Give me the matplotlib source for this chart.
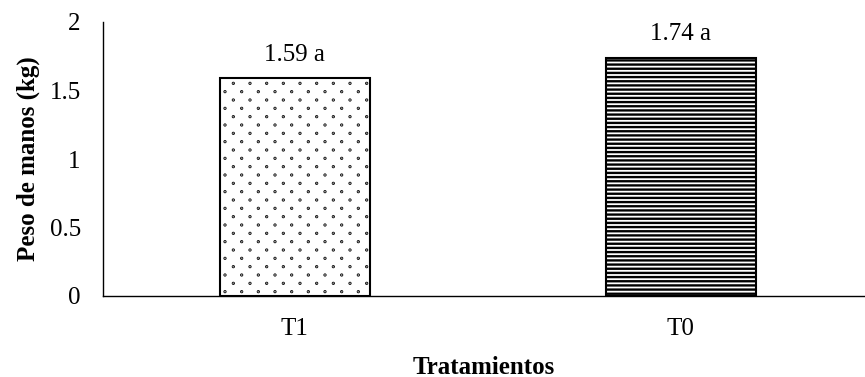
import matplotlib
matplotlib.use("Agg")
import numpy as np
import matplotlib.pyplot as plt
from matplotlib import hatch as mhatch
from matplotlib.path import Path

categories = ["T1", "T0"]
values = [1.59, 1.74]
letters = ["a", "a"]
hatches = [".", "----"]
yticks = [0, 0.5, 1, 1.5, 2]
ytick_labels = ["0", "0.5", "1", "1.5", "2"]


class SparseDots(mhatch.HatchPatternBase):
    """Small dots on a staggered grid: rows twice as dense as columns."""

    def __init__(self, hatch, density):
        n = hatch.count(".") * density
        circ = Path.unit_circle()
        self.shape_vertices = circ.vertices
        self.shape_codes = circ.codes
        if n:
            rows = 2 * n
            centers = []
            for i in range(rows + 1):
                y = i / rows
                if i % 2 == 0:
                    xs = np.linspace(0, 1, n + 1)
                else:
                    xs = np.linspace(0.5 / n, 1 - 0.5 / n, n)
                centers += [(xx, y) for xx in xs]
            self.centers = np.array(centers)
            self.num_vertices = len(self.centers) * len(self.shape_vertices)
        else:
            self.centers = np.zeros((0, 2))
            self.num_vertices = 0

    def set_vertices_and_codes(self, vertices, codes):
        r = 0.004
        nv = len(self.shape_vertices)
        for k, (cx, cy) in enumerate(self.centers):
            vertices[k * nv:(k + 1) * nv] = self.shape_vertices * r + (cx, cy)
            codes[k * nv:(k + 1) * nv] = self.shape_codes


mhatch._hatch_types = [SparseDots if t is mhatch.SmallFilledCircles else t
                       for t in mhatch._hatch_types]

plt.rcParams["font.family"] = ["Liberation Serif", "DejaVu Serif"]
plt.rcParams["hatch.linewidth"] = 1.7
plt.rcParams["hatch.color"] = "black"

fig = plt.figure(figsize=(8.65, 3.77), dpi=100)
W, H = 865, 377
left, right, bottom, top = 103, 865, 296, 22
ax = fig.add_axes([left / W, (H - bottom) / H, (right - left) / W, (bottom - top) / H])

x = list(range(len(categories)))
bars = ax.bar(x, values, width=0.39, color="white", edgecolor="black", linewidth=1.5)
for b, h in zip(bars, hatches):
    b.set_hatch(h)

for xi, v, l in zip(x, values, letters):
    ax.annotate(f"{v:.2f} {l}", (xi, v), xytext=(0, 9), textcoords="offset points",
                ha="center", va="bottom", fontsize=18)

ax.set_xlim(-0.497, 1.477)
ax.set_ylim(0, 2)
ax.set_yticks(yticks)
ax.set_yticklabels(ytick_labels)
ax.set_xticks(x)
ax.set_xticklabels(categories)
ax.tick_params(axis="both", length=0, labelsize=18)
ax.tick_params(axis="y", pad=16)
ax.tick_params(axis="x", pad=16)

for s in ["top", "right"]:
    ax.spines[s].set_visible(False)
for s in ["left", "bottom"]:
    ax.spines[s].set_linewidth(1.0)

ax.set_ylabel("Peso de manos (kg)", fontsize=18, fontweight="bold", labelpad=7)
ax.set_xlabel("Tratamientos", fontsize=18, fontweight="bold", labelpad=11)

fig.savefig("out.png", dpi=100)
